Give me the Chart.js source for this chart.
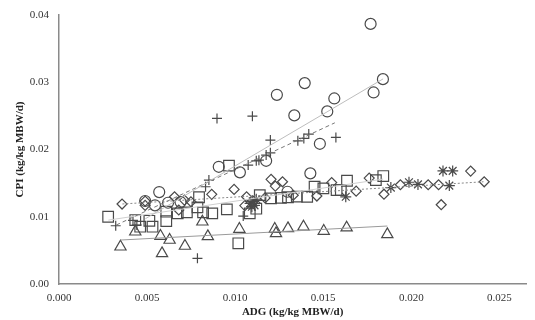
<!DOCTYPE html>
<html>
<head>
<meta charset="utf-8">
<script src="https://cdn.jsdelivr.net/npm/chart.js@4/dist/chart.umd.min.js"></script>
<style>
  body { margin: 0; background: #fff; }
</style>
</head>
<body>
<canvas id="grafico" width="535" height="320"></canvas>
<script>
// ticks
const xTicks = [0, 0.005, 0.010, 0.015, 0.020, 0.025];
const yTicks = [0, 0.01, 0.02, 0.03, 0.04];

// circles
const circleX = [0.00489, 0.00545, 0.00569, 0.00619, 0.00690, 0.00907, 0.01027, 0.01176, 0.01297, 0.01237, 0.01336, 0.01395, 0.01427, 0.01481, 0.01523, 0.01563, 0.01769, 0.01786, 0.01839];
const circleY = [0.01234, 0.01170, 0.01367, 0.01208, 0.01218, 0.01743, 0.01660, 0.01832, 0.01372, 0.02813, 0.02507, 0.02987, 0.01645, 0.02085, 0.02566, 0.02759, 0.03868, 0.02848, 0.03046];

// plus signs
const plusX = [0.00322, 0.00420, 0.00442, 0.00786, 0.00832, 0.00851, 0.00897, 0.01046, 0.01074, 0.01098, 0.01120, 0.01135, 0.01176, 0.01200, 0.01200, 0.01356, 0.01390, 0.01418, 0.01572];
const plusY = [0.00866, 0.00945, 0.00877, 0.00382, 0.01446, 0.01545, 0.02462, 0.01010, 0.01768, 0.02496, 0.01832, 0.01842, 0.01917, 0.01951, 0.02140, 0.02129, 0.02165, 0.02229, 0.02180];

// squares
const squareX = [0.00279, 0.00433, 0.00461, 0.00513, 0.00531, 0.00609, 0.00609, 0.00674, 0.00726, 0.00786, 0.00795, 0.00818, 0.00870, 0.00953, 0.00965, 0.01018, 0.01083, 0.01120, 0.01140, 0.01204, 0.01260, 0.01300, 0.01350, 0.01409, 0.01451, 0.01501, 0.01576, 0.01600, 0.01635, 0.01799, 0.01841];
const squareY = [0.01000, 0.00951, 0.00852, 0.00940, 0.00852, 0.00936, 0.01075, 0.01050, 0.01065, 0.01140, 0.01290, 0.01065, 0.01050, 0.01110, 0.01760, 0.00605, 0.01050, 0.01120, 0.01322, 0.01273, 0.01280, 0.01290, 0.01300, 0.01297, 0.01446, 0.01422, 0.01397, 0.01397, 0.01535, 0.01545, 0.01605];

// diamonds
const diamondX = [0.00358, 0.00489, 0.00489, 0.00656, 0.00680, 0.00712, 0.00749, 0.00867, 0.00994, 0.01055, 0.01065, 0.01170, 0.01204, 0.01228, 0.01269, 0.01330, 0.01464, 0.01548, 0.01687, 0.01761, 0.01845, 0.01938, 0.02096, 0.02155, 0.02170, 0.02337, 0.02414];
const diamondY = [0.01189, 0.01233, 0.01170, 0.01297, 0.01100, 0.01248, 0.01223, 0.01333, 0.01407, 0.01166, 0.01297, 0.01280, 0.01556, 0.01456, 0.01520, 0.01320, 0.01308, 0.01508, 0.01380, 0.01575, 0.01335, 0.01476, 0.01476, 0.01476, 0.01179, 0.01679, 0.01520];

// asterisks
const starX = [0.01085, 0.01100, 0.01110, 0.01120, 0.01095, 0.01628, 0.01884, 0.01987, 0.02038, 0.02180, 0.02235, 0.02216];
const starY = [0.01200, 0.01230, 0.01170, 0.01260, 0.01150, 0.01297, 0.01434, 0.01513, 0.01481, 0.01682, 0.01682, 0.01463];

// triangles
const triX = [0.00349, 0.00433, 0.00576, 0.00585, 0.00628, 0.00715, 0.00814, 0.00845, 0.01024, 0.01225, 0.01232, 0.01300, 0.01388, 0.01503, 0.01633, 0.01864];
const triY = [0.00554, 0.00777, 0.00713, 0.00456, 0.00654, 0.00565, 0.00926, 0.00708, 0.00817, 0.00817, 0.00753, 0.00827, 0.00851, 0.00787, 0.00837, 0.00738];

// trend lines (start, end)
const circleLineX = [0.0049, 0.0184];
const circleLineY = [0.0097, 0.0305];
const plusLineX = [0.00325, 0.01566];
const plusLineY = [0.00877, 0.02397];
const squareLineX = [0.0028, 0.0184];
const squareLineY = [0.0095, 0.0156];
const diamondLineX = [0.0036, 0.0241];
const diamondLineY = [0.0119, 0.0152];
const triLineX = [0.0035, 0.01864];
const triLineY = [0.00654, 0.00862];

function pontos(xs, ys) {
    return xs.map(function(x, i) { return { x: x, y: ys[i] }; });
}

function marcador(xs, ys, estilo, raio) {
    return {
        data: pontos(xs, ys),
        pointStyle: estilo,
        pointRadius: raio,
        pointBorderColor: '#4a4a4a',
        pointBackgroundColor: 'rgba(0,0,0,0)',
        pointBorderWidth: 1.2,
        showLine: false
    };
}

function tendencia(xs, ys, cor, dash) {
    return {
        data: pontos(xs, ys),
        showLine: true,
        borderColor: cor,
        borderWidth: 1,
        borderDash: dash,
        pointRadius: 0
    };
}

const fonte = "'Liberation Serif', 'Times New Roman', serif";
Chart.defaults.font.family = fonte;
Chart.defaults.color = '#333';

let g = document.getElementById('grafico').getContext('2d');
let graficoChart = new Chart(g, {
    type: 'scatter',
    data: {
        datasets: [
            tendencia(circleLineX, circleLineY, '#bdbdbd', []),
            tendencia(plusLineX, plusLineY, '#777', [4, 3]),
            tendencia(squareLineX, squareLineY, '#cfcfcf', []),
            tendencia(diamondLineX, diamondLineY, '#888', [2, 2]),
            tendencia(triLineX, triLineY, '#9a9a9a', []),
            marcador(circleX, circleY, 'circle', 5.5),
            marcador(plusX, plusY, 'cross', 5),
            marcador(squareX, squareY, 'rect', 7.5),
            marcador(diamondX, diamondY, 'rectRot', 5),
            marcador(starX, starY, 'star', 5.5),
            marcador(triX, triY, 'triangle', 6.5)
        ]
    },
    options: {
        responsive: false,
        animation: false,
        layout: { padding: { top: 15, right: 0, left: 0, bottom: 0 } },
        plugins: { legend: { display: false }, tooltip: { enabled: false } },
        scales: {
            x: {
                type: 'linear',
                min: 0,
                max: 0.02653,
                grid: { display: false },
                border: { color: '#8a8a8a', width: 1.5 },
                afterBuildTicks: function(scale) {
                    scale.ticks = xTicks.map(function(v) { return { value: v }; });
                },
                afterFit: function(scale) { scale.height = 36; },
                ticks: {
                    padding: 0,
                    font: { size: 11 },
                    callback: function(v) { return v.toFixed(3); }
                },
                title: {
                    display: true,
                    text: 'ADG (kg/kg MBW/d)',
                    color: '#222',
                    font: { size: 11, weight: 'bold' },
                    padding: { top: 0, bottom: 1 }
                }
            },
            y: {
                type: 'linear',
                min: 0,
                max: 0.04,
                grid: { display: false },
                border: { color: '#8a8a8a', width: 1.5 },
                afterBuildTicks: function(scale) {
                    scale.ticks = yTicks.map(function(v) { return { value: v }; });
                },
                afterFit: function(scale) { scale.width = 59; },
                ticks: {
                    padding: 2,
                    font: { size: 11 },
                    callback: function(v) { return v.toFixed(2); }
                },
                title: {
                    display: true,
                    text: 'CPI (kg/kg MBW/d)',
                    color: '#222',
                    font: { size: 11, weight: 'bold' },
                    padding: { top: 14, bottom: 0 }
                }
            }
        }
    }
});
</script>
</body>
</html>
